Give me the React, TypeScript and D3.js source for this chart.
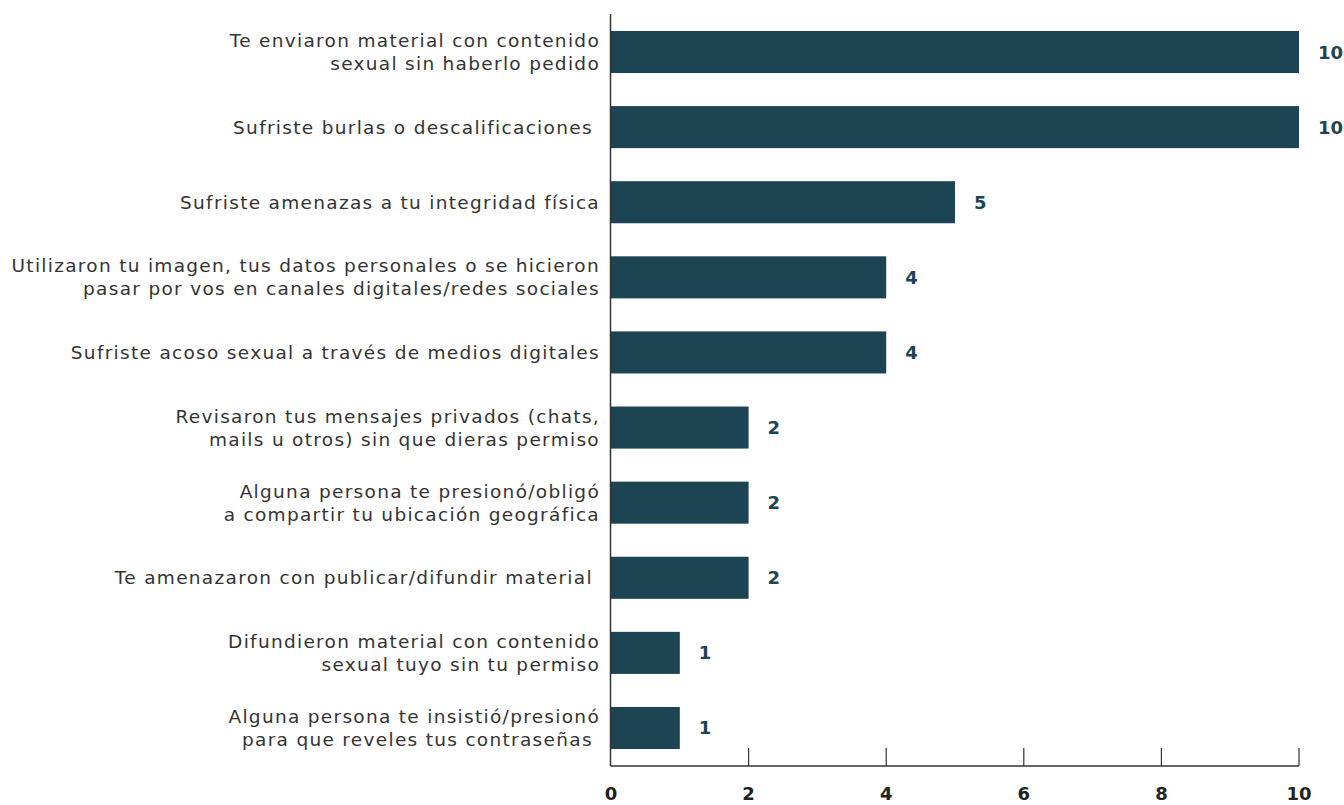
import * as d3 from "d3";

const categories = [
    "Te enviaron material con contenido\nsexual sin haberlo pedido",
    "Sufriste burlas o descalificaciones ",
    "Sufriste amenazas a tu integridad física",
    "Utilizaron tu imagen, tus datos personales o se hicieron\npasar por vos en canales digitales/redes sociales",
    "Sufriste acoso sexual a través de medios digitales",
    "Revisaron tus mensajes privados (chats,\nmails u otros) sin que dieras permiso",
    "Alguna persona te presionó/obligó\na compartir tu ubicación geográfica",
    "Te amenazaron con publicar/difundir material ",
    "Difundieron material con contenido\nsexual tuyo sin tu permiso",
    "Alguna persona te insistió/presionó\npara que reveles tus contraseñas ",
];
const values = [10, 10, 5, 4, 4, 2, 2, 2, 1, 1];
const tickValues = [0, 2, 4, 6, 8, 10];

const barColor = "#1d4452";
const inkColor = "#333333";
const font = "'DejaVu Sans', sans-serif";

function App() {
    const width = 1344
    const height = 805
    const axisTop = 14
    const axisBottom = 766

    const x = d3.scaleLinear().domain([0, 10]).range([611, 1299]);
    const y = d3.scaleBand().domain(categories).range([axisTop, axisBottom]).paddingInner(0.44).paddingOuter(0.226);
    const lineHeight = 23

    return (
        <svg width={width} height={height} style={{ position: "absolute", left: 0, top: 0, background: "#ffffff" }} fontFamily={font}>
            {categories.map((c, i) => (
                <rect key={c} x={x(0)} y={y(c)!} width={x(values[i]) - x(0)} height={y.bandwidth()} fill={barColor} />
            ))}

            {categories.map((c) => {
                const lines = c.split("\n")
                const mid = y(c)! + y.bandwidth() / 2
                return (
                    <text key={c} x={600} textAnchor="end" fontSize={18.5} letterSpacing={1.3} fill={inkColor} xmlSpace="preserve">
                        {lines.map((l, j) => (
                            <tspan key={j} x={600} y={mid + (j - (lines.length - 1) / 2) * lineHeight} dominantBaseline="central">{l}</tspan>
                        ))}
                    </text>
                )
            })}

            {categories.map((c, i) => (
                <text key={c} x={x(values[i]) + 19} y={y(c)! + y.bandwidth() / 2} dominantBaseline="central" fontSize={18} fontWeight="bold" fill={barColor}>{values[i]}</text>
            ))}

            <line x1={610.5} y1={axisTop} x2={610.5} y2={axisBottom} stroke={inkColor} strokeWidth={1.5} />
            <line x1={610.5} y1={axisBottom} x2={x(10)} y2={axisBottom} stroke={inkColor} strokeWidth={1.5} />

            {tickValues.map((t) => (
                <g key={t} transform={`translate(${x(t)},0)`}>
                    {t > 0 && <line x1={0} y1={axisBottom - 18} x2={0} y2={axisBottom} stroke={inkColor} strokeWidth={1.2} />}
                    <text x={0} y={800} textAnchor="middle" fontSize={18} fontWeight="bold" fill="#222222">{t}</text>
                </g>
            ))}
        </svg>
    )
}

export default App;
